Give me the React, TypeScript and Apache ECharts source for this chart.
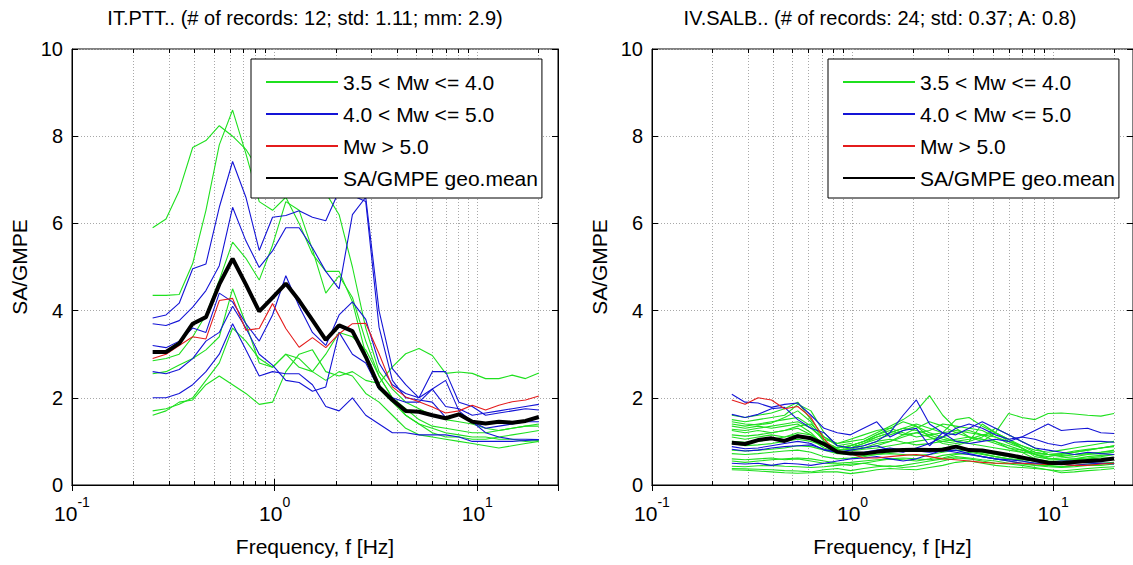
import React, { useEffect, useRef } from "react";
import * as echarts from "echarts";

// Frequencies (Hz) of the spectral points
const FREQ = [0.25, 0.291, 0.338, 0.394, 0.458, 0.533, 0.62, 0.721, 0.839, 0.976, 1.135, 1.32, 1.536, 1.787, 2.079, 2.419, 2.814, 3.273, 3.808, 4.43, 5.153, 5.995, 6.974, 8.113, 9.438, 10.98, 12.77, 14.86, 17.29, 20.11];
// Minor log grid positions
const X_MINOR = [0.2, 0.3, 0.4, 0.5, 0.6, 0.7, 0.8, 0.9, 2, 3, 4, 5, 6, 7, 8, 9, 20];
const Y_MIN = 0;
const Y_MAX = 10;
const Y_STEP = 2;
const X_MIN = 0.1;
const X_MAX = 25;

const LEGEND_NAMES = ["3.5 < Mw <= 4.0", "4.0 < Mw <= 5.0", "Mw > 5.0", "SA/GMPE geo.mean"];
const TITLE_LEFT = "IT.PTT.. (# of records: 12; std: 1.11; mm: 2.9)";
const TITLE_RIGHT = "IV.SALB.. (# of records: 24; std: 0.37; A: 0.8)";
const X_NAME = "Frequency, f [Hz]";
const Y_NAME = "SA/GMPE";

// ---- Left panel (IT.PTT) ----
const LEFT_GREEN = [
  [5.9, 6.1, 6.75, 7.74, 7.9, 8.24, 8.0, 7.7, 7.2, 6.9, 6.6, 6.8, 6.9, 6.7, 6.2, 5.0, 3.6, 2.6, 2.2, 1.9, 1.75, 1.6, 1.5, 1.45, 1.4, 1.3, 1.25, 1.3, 1.35, 1.4],
  [4.35, 4.35, 4.37, 5.08, 6.3, 7.8, 8.6, 7.6, 6.5, 6.3, 6.6, 6.0, 5.3, 4.9, 4.9, 4.2, 3.0, 2.2, 1.9, 1.6, 1.4, 1.3, 1.2, 1.15, 1.1, 1.1, 1.05, 1.05, 1.0, 1.02],
  [2.85, 2.9, 3.0, 3.4, 3.9, 4.7, 5.57, 5.2, 4.7, 5.5, 6.5, 6.3, 5.4, 4.4, 4.8, 4.3, 3.3, 2.5, 2.0, 1.75, 1.5, 1.35, 1.3, 1.25, 1.2, 1.2, 1.25, 1.3, 1.35, 1.35],
  [1.6, 1.7, 1.9, 1.95, 2.3, 2.5, 2.3, 2.1, 1.85, 1.9, 2.6, 3.0, 3.1, 2.6, 2.5, 2.6, 2.4, 2.33, 2.71, 3.01, 3.13, 2.97, 2.56, 2.59, 2.56, 2.44, 2.44, 2.52, 2.44, 2.57],
  [2.55, 2.6, 2.75, 2.9, 3.1, 3.4, 4.5, 3.7, 2.8, 2.7, 3.0, 2.9, 2.6, 2.4, 2.6, 2.5, 2.1, 1.9, 1.6, 1.3, 1.15, 1.1, 1.05, 1.0, 0.95, 0.9, 0.85, 0.9, 0.95, 1.0],
  [1.7, 1.75, 1.85, 2.0, 2.4, 2.8, 3.6, 3.3, 2.9, 2.7, 3.0, 2.7, 2.6, 3.0, 3.5, 3.4, 3.1, 2.5, 2.0, 1.6, 1.4, 1.2, 1.1, 1.1, 1.05, 1.05, 1.1, 1.15, 1.2, 1.25],
];
const LEFT_BLUE = [
  [3.83, 3.9, 4.17, 4.96, 5.07, 6.37, 7.42, 6.6, 5.38, 6.14, 6.18, 6.29, 6.14, 6.06, 6.75, 6.64, 6.5, 3.62, 2.4, 2.0, 1.95, 1.9, 1.55, 1.6, 1.45, 1.3, 1.35, 1.4, 1.45, 1.45],
  [3.7, 3.66, 3.77, 4.08, 4.46, 5.03, 6.37, 5.6, 4.99, 5.37, 5.9, 5.9, 5.44, 4.9, 4.5, 6.2, 6.6, 4.0, 2.67, 2.3, 2.0, 2.2, 1.8, 1.75, 1.6, 1.65, 1.7, 1.75, 1.8, 1.85],
  [3.2, 3.15, 3.3, 3.6, 3.5, 4.4, 4.2, 3.7, 3.3, 3.9, 4.8, 4.1, 3.5, 3.2, 3.9, 4.2, 3.8, 2.8, 2.3, 2.1, 2.0, 2.6, 2.6, 1.9, 1.8, 1.6, 1.65, 1.7, 1.75, 1.72],
  [2.6, 2.55, 2.65, 2.9, 3.3, 3.5, 4.1, 3.6, 3.0, 2.75, 2.4, 2.35, 2.15, 2.25, 3.5, 3.0, 2.8, 2.2, 2.0, 1.9, 1.9, 2.2, 2.4, 1.7, 1.45, 1.2, 1.1, 1.05, 1.05, 1.04],
  [2.0, 2.0, 2.1, 2.3, 2.6, 3.0, 3.7, 3.1, 2.5, 2.6, 2.55, 2.55, 2.3, 1.8, 1.7, 2.0, 1.6, 1.4, 1.2, 1.2, 1.15, 1.15, 1.15, 1.1, 1.0, 1.0, 1.0, 1.0, 1.02, 1.04],
];
const LEFT_RED = [
  [2.9, 3.0, 3.2, 3.4, 3.35, 4.23, 4.28, 3.55, 3.59, 4.16, 3.59, 3.16, 3.38, 3.15, 3.47, 3.7, 3.71, 3.01, 2.25, 2.02, 1.91, 1.79, 1.65, 1.7, 1.83, 1.72, 1.83, 1.91, 1.95, 2.04],
];
const LEFT_MEAN = [3.05, 3.05, 3.25, 3.7, 3.85, 4.6, 5.19, 4.6, 3.98, 4.3, 4.62, 4.23, 3.78, 3.33, 3.66, 3.53, 2.94, 2.25, 1.95, 1.7, 1.68, 1.6, 1.53, 1.62, 1.45, 1.41, 1.45, 1.43, 1.47, 1.56];

// ---- Right panel (IV.SALB) ----
const RIGHT_GREEN = [
  [1.6, 1.55, 1.6, 1.65, 1.75, 1.9, 1.5, 1.1, 0.95, 1.0, 1.05, 1.2, 1.35, 1.5, 1.7, 2.05, 1.6, 1.3, 1.1, 1.0, 1.2, 1.64, 1.55, 1.5, 1.64, 1.65, 1.63, 1.6, 1.58, 1.64],
  [1.5, 1.45, 1.5, 1.55, 1.6, 1.85, 1.7, 1.2, 0.9, 0.85, 0.95, 1.1, 1.2, 1.3, 1.4, 1.3, 1.2, 1.5, 1.55, 1.35, 1.2, 1.05, 0.9, 0.8, 0.75, 0.8, 0.85, 0.9, 0.95, 1.0],
  [1.4, 1.35, 1.4, 1.45, 1.5, 1.55, 1.35, 1.0, 0.85, 0.9, 1.0, 1.15, 1.25, 1.15, 1.2, 1.25, 1.4, 1.35, 1.3, 1.25, 1.1, 0.95, 0.85, 0.7, 0.65, 0.7, 0.75, 0.8, 0.85, 0.88],
  [1.35, 1.3, 1.35, 1.3, 1.35, 1.4, 1.2, 0.9, 0.8, 0.85, 0.95, 1.05, 1.15, 1.25, 1.35, 1.1, 0.95, 0.9, 1.0, 1.1, 1.3, 1.15, 1.0, 0.85, 0.7, 0.65, 0.7, 0.72, 0.75, 0.8],
  [1.28, 1.25, 1.3, 1.35, 1.4, 1.45, 1.3, 1.05, 0.95, 1.05, 1.15, 1.25, 1.3, 1.2, 1.1, 1.15, 1.2, 1.25, 1.2, 1.15, 1.1, 1.0, 0.9, 0.75, 0.7, 0.72, 0.78, 0.82, 0.85, 0.9],
  [1.25, 1.2, 1.25, 1.2, 1.25, 1.3, 1.15, 0.95, 0.85, 0.9, 1.0, 1.1, 1.2, 1.3, 1.25, 1.15, 1.05, 1.0, 1.05, 1.15, 1.2, 1.05, 0.85, 0.65, 0.6, 0.62, 0.65, 0.7, 0.72, 0.75],
  [1.15, 1.12, 1.15, 1.2, 1.25, 1.35, 1.4, 1.1, 0.9, 0.95, 0.85, 0.9, 1.0, 1.15, 1.3, 1.45, 1.35, 1.2, 1.1, 1.05, 1.0, 0.9, 0.8, 0.7, 0.62, 0.58, 0.6, 0.62, 0.65, 0.7],
  [1.1, 1.05, 1.1, 1.15, 1.1, 1.15, 1.05, 0.85, 0.75, 0.78, 0.82, 0.85, 0.9, 0.95, 1.0, 1.05, 1.1, 1.2, 1.25, 1.15, 1.0, 0.85, 0.75, 0.6, 0.55, 0.55, 0.58, 0.6, 0.62, 0.62],
  [0.8, 0.78, 0.8, 0.82, 0.85, 0.9, 0.88, 0.8, 0.72, 0.7, 0.68, 0.7, 0.75, 0.78, 0.8, 0.82, 0.85, 0.88, 0.8, 0.75, 0.7, 0.65, 0.6, 0.55, 0.5, 0.5, 0.52, 0.55, 0.58, 0.6],
  [0.6, 0.58, 0.6, 0.62, 0.58, 0.6, 0.55, 0.5, 0.48, 0.45, 0.5, 0.55, 0.6, 0.62, 0.6, 0.58, 0.62, 0.7, 0.75, 0.7, 0.65, 0.6, 0.55, 0.5, 0.45, 0.42, 0.45, 0.48, 0.5, 0.52],
  [0.43, 0.42, 0.44, 0.45, 0.43, 0.42, 0.4, 0.42, 0.45, 0.48, 0.5, 0.45, 0.42, 0.45, 0.5, 0.55, 0.6, 0.65, 0.62, 0.58, 0.55, 0.5, 0.48, 0.45, 0.42, 0.4, 0.42, 0.45, 0.45, 0.48],
  [0.38, 0.37, 0.36, 0.35, 0.33, 0.32, 0.3, 0.35, 0.38, 0.33, 0.38, 0.42, 0.44, 0.4, 0.43, 0.48, 0.55, 0.62, 0.6, 0.55, 0.5, 0.48, 0.45, 0.4, 0.35, 0.32, 0.35, 0.38, 0.4, 0.42],
  [1.0, 0.98, 1.0, 1.05, 1.1, 1.2, 1.15, 0.95, 0.8, 0.82, 0.9, 1.0, 1.05, 0.98, 0.92, 0.95, 1.0, 1.05, 1.1, 1.05, 0.95, 0.85, 0.8, 0.75, 0.7, 0.68, 0.7, 0.72, 0.75, 0.78],
  [0.72, 0.7, 0.72, 0.75, 0.78, 0.8, 0.75, 0.65, 0.6, 0.62, 0.65, 0.7, 0.72, 0.7, 0.68, 0.7, 0.75, 0.8, 0.78, 0.72, 0.65, 0.6, 0.58, 0.55, 0.52, 0.5, 0.52, 0.55, 0.57, 0.6],
  [1.45, 1.4, 1.38, 1.42, 1.55, 1.7, 1.45, 1.0, 0.82, 0.8, 0.85, 0.95, 1.0, 1.1, 1.2, 1.1, 1.0, 0.95, 1.0, 1.4, 1.2, 1.0, 0.85, 0.7, 0.6, 0.58, 0.6, 0.65, 0.68, 0.7],
  [0.35, 0.34, 0.32, 0.3, 0.28, 0.27, 0.28, 0.3, 0.3, 0.26, 0.3, 0.35, 0.38, 0.36, 0.35, 0.4, 0.45, 0.52, 0.55, 0.5, 0.45, 0.42, 0.4, 0.38, 0.35, 0.28, 0.3, 0.33, 0.35, 0.38],
  [0.95, 0.9, 0.92, 0.95, 1.0, 1.05, 1.0, 0.9, 0.85, 0.9, 1.0, 1.15, 1.3, 1.45, 1.35, 1.2, 1.1, 1.0, 0.95, 0.9, 0.85, 0.8, 0.75, 0.72, 0.7, 0.72, 0.75, 0.8, 0.85, 0.9],
  [0.55, 0.52, 0.55, 0.58, 0.6, 0.62, 0.6, 0.55, 0.5, 0.52, 0.55, 0.58, 0.6, 0.58, 0.55, 0.6, 0.68, 0.72, 0.7, 0.65, 0.6, 0.55, 0.5, 0.46, 0.44, 0.42, 0.44, 0.46, 0.48, 0.5],
];
const RIGHT_BLUE = [
  [2.08, 1.9, 1.88, 1.78, 1.85, 1.88, 1.6, 1.3, 1.2, 1.15, 1.3, 1.45, 1.1, 1.25, 1.3, 0.9, 1.2, 1.15, 1.3, 1.45, 1.3, 1.15, 1.0, 0.85, 0.8, 0.75, 0.7, 0.75, 0.72, 0.7],
  [1.62, 1.55, 1.62, 1.75, 1.78, 1.5, 1.3, 1.2, 0.9, 0.85, 0.9, 1.0, 1.2, 1.6, 1.95, 1.4, 1.2, 1.0, 0.95, 1.0, 1.05, 1.0, 1.1, 1.25, 1.4, 1.25, 1.28, 1.3, 1.2, 1.18],
  [0.88, 0.83, 0.85, 0.9, 0.95, 1.0, 0.95, 0.8, 0.75, 0.8, 0.85, 0.9, 0.8, 0.75, 0.85, 0.95, 1.1, 1.3, 1.4, 1.3, 1.15, 1.05, 1.1, 1.05, 0.95, 0.9, 0.98, 1.0, 1.0, 0.98],
  [0.5, 0.48, 0.5, 0.45, 0.5, 0.48, 0.45, 0.5, 0.55, 0.6, 0.62, 0.65, 0.6, 0.55, 0.6, 0.7, 0.8, 0.75, 0.7, 0.65, 0.6, 0.58, 0.55, 0.5, 0.5, 0.48, 0.45, 0.48, 0.5, 0.48],
  [0.82, 0.78, 0.8, 0.85, 0.88, 0.9, 0.92, 0.82, 0.75, 0.72, 0.75, 0.8, 0.85, 0.8, 0.78, 0.75, 0.78, 0.8, 0.72, 0.65, 0.6, 0.55, 0.5, 0.5, 0.52, 0.55, 0.55, 0.52, 0.5, 0.5],
];
const RIGHT_RED = [
  [1.95, 1.85, 2.0, 1.95, 1.75, 1.8, 1.55, 1.05, 0.75, 0.72, 0.62, 0.62, 0.65, 0.68, 0.7, 0.65, 0.6, 0.58, 0.55, 0.52, 0.5, 0.5, 0.5, 0.48, 0.47, 0.47, 0.45, 0.45, 0.48, 0.5],
];
const RIGHT_MEAN = [0.97, 0.94, 1.03, 1.07, 1.01, 1.12, 1.07, 0.94, 0.76, 0.72, 0.72, 0.76, 0.79, 0.8, 0.81, 0.8, 0.81, 0.88, 0.8, 0.79, 0.74, 0.69, 0.63, 0.57, 0.51, 0.5, 0.53, 0.55, 0.57, 0.61];

const COLOR_GREEN = "#1fe01f";
const COLOR_BLUE = "#1414d6";
const COLOR_RED = "#e41c1c";
const COLOR_MEAN = "#000000";
const GRID_COLOR = "#a8a8a8";
const FONT = '"Liberation Sans", Arial, Helvetica, sans-serif';

const PANELS = [
  { left: 72, top: 49, width: 486, height: 436, title: TITLE_LEFT, titleX: 305, legendLeft: 251, legendTop: 59,
    green: LEFT_GREEN, blue: LEFT_BLUE, red: LEFT_RED, mean: LEFT_MEAN },
  { left: 652, top: 49, width: 482, height: 436, title: TITLE_RIGHT, titleX: 880, legendLeft: 828, legendTop: 59,
    green: RIGHT_GREEN, blue: RIGHT_BLUE, red: RIGHT_RED, mean: RIGHT_MEAN },
];

function toPairs(values: number[]) {
  return FREQ.map((f, i) => [f, values[i]]);
}

function lineSeries(name: string, values: number[], color: string, width: number, gi: number, z: number) {
  return {
    type: "line",
    name,
    xAxisIndex: gi,
    yAxisIndex: gi,
    data: toPairs(values),
    showSymbol: false,
    symbol: "none",
    silent: true,
    z,
    lineStyle: { color, width },
    itemStyle: { color },
    emphasis: { disabled: true },
  };
}

function buildOption() {
  const grid: any[] = [];
  const xAxis: any[] = [];
  const yAxis: any[] = [];
  const series: any[] = [];
  const legend: any[] = [];
  const graphic: any[] = [];

  PANELS.forEach((p) => {
    grid.push({ left: p.left, top: p.top, width: p.width, height: p.height, show: true, borderColor: "#000", borderWidth: 1, backgroundColor: "transparent" });
  });

  // bottom x axes
  PANELS.forEach((p, gi) => {
    xAxis.push({
      type: "log", logBase: 10, min: X_MIN, max: X_MAX, gridIndex: gi, position: "bottom",
      axisLine: { show: true, lineStyle: { color: "#000", width: 1 } },
      axisTick: { show: true, inside: true, length: 6, lineStyle: { color: "#000" } },
      axisLabel: {
        show: true, showMaxLabel: false, margin: 10, color: "#000",
        formatter: (v: number) => {
          const e = Math.round(Math.log10(v));
          if (Math.abs(Math.log10(v) - e) > 1e-6) return "";
          return `{b|10}{s|${e}}`;
        },
        rich: {
          b: { fontSize: 21, fontFamily: FONT, color: "#000", padding: [8, 0, 0, 0], verticalAlign: "bottom" },
          s: { fontSize: 14, fontFamily: FONT, color: "#000", verticalAlign: "top", lineHeight: 14 },
        },
      },
      splitLine: { show: true, lineStyle: { color: GRID_COLOR, type: [1, 2], width: 1 } },
      name: X_NAME, nameLocation: "middle", nameGap: 51,
      nameTextStyle: { fontSize: 21, fontFamily: FONT, color: "#000" },
    });
  });
  // top x axes (mirror ticks)
  PANELS.forEach((p, gi) => {
    xAxis.push({
      type: "log", logBase: 10, min: X_MIN, max: X_MAX, gridIndex: gi, position: "top",
      axisLine: { show: true, lineStyle: { color: "#000", width: 1 } },
      axisTick: { show: true, inside: true, length: 6, lineStyle: { color: "#000" } },
      axisLabel: { show: false },
      splitLine: { show: false },
    });
  });
  // left y axes
  PANELS.forEach((p, gi) => {
    yAxis.push({
      type: "value", min: Y_MIN, max: Y_MAX, interval: Y_STEP, gridIndex: gi, position: "left",
      axisLine: { show: true, lineStyle: { color: "#000", width: 1 } },
      axisTick: { show: true, inside: true, length: 6, lineStyle: { color: "#000" } },
      axisLabel: { show: true, fontSize: 20, fontFamily: FONT, color: "#000", margin: 9 },
      splitLine: { show: true, lineStyle: { color: GRID_COLOR, type: [1, 2], width: 1 } },
      name: Y_NAME, nameLocation: "middle", nameGap: 42, nameRotate: 90,
      nameTextStyle: { fontSize: 21, fontFamily: FONT, color: "#000" },
    });
  });
  // right y axes (mirror ticks)
  PANELS.forEach((p, gi) => {
    yAxis.push({
      type: "value", min: Y_MIN, max: Y_MAX, interval: Y_STEP, gridIndex: gi, position: "right",
      axisLine: { show: true, lineStyle: { color: "#000", width: 1 } },
      axisTick: { show: true, inside: true, length: 6, lineStyle: { color: "#000" } },
      axisLabel: { show: false },
      splitLine: { show: false },
    });
  });

  PANELS.forEach((p, gi) => {
    // minor log grid + minor ticks
    series.push({
      type: "custom",
      name: "minor-grid-" + gi,
      xAxisIndex: gi,
      yAxisIndex: gi,
      silent: true,
      z: 1,
      data: X_MINOR.map((v) => [v, 0]),
      renderItem: (params: any, api: any) => {
        const cs = params.coordSys;
        const x = Math.round(api.coord([api.value(0), 0])[0]) + 0.5;
        const top = cs.y;
        const bottom = cs.y + cs.height;
        return {
          type: "group",
          children: [
            { type: "line", shape: { x1: x, y1: top, x2: x, y2: bottom }, style: { stroke: GRID_COLOR, lineWidth: 1, lineDash: [1, 2] } },
            { type: "line", shape: { x1: x, y1: bottom, x2: x, y2: bottom - 4 }, style: { stroke: "#000", lineWidth: 1 } },
            { type: "line", shape: { x1: x, y1: top, x2: x, y2: top + 4 }, style: { stroke: "#000", lineWidth: 1 } },
          ],
        };
      },
    });
    p.green.forEach((vals) => series.push(lineSeries(LEGEND_NAMES[0], vals, COLOR_GREEN, 1.1, gi, 2)));
    p.blue.forEach((vals) => series.push(lineSeries(LEGEND_NAMES[1], vals, COLOR_BLUE, 1.1, gi, 2)));
    p.red.forEach((vals) => series.push(lineSeries(LEGEND_NAMES[2], vals, COLOR_RED, 1.1, gi, 2)));
    series.push(lineSeries(LEGEND_NAMES[3], p.mean, COLOR_MEAN, 4, gi, 3));

    legend.push({
      data: LEGEND_NAMES,
      orient: "vertical",
      left: p.legendLeft,
      top: p.legendTop,
      padding: [12, 4, 9, 14],
      itemGap: 10,
      itemWidth: 72,
      itemHeight: 14,
      backgroundColor: "#fff",
      borderColor: "#000",
      borderWidth: 1,
      borderRadius: 0,
      selectedMode: false,
      z: 10,
      itemStyle: { opacity: 0 },
      textStyle: { fontSize: 21, fontFamily: FONT, color: "#000", lineHeight: 22 },
    });

    graphic.push({
      type: "text",
      x: p.titleX,
      y: 18,
      style: { text: p.title, fill: "#000", fontSize: 20, fontFamily: FONT, align: "center", verticalAlign: "middle" },
    });
  });

  return {
    animation: false,
    backgroundColor: "#fff",
    tooltip: { show: false },
    grid,
    xAxis,
    yAxis,
    legend,
    series,
    graphic,
  };
}

export default function App() {
  const ref = useRef<HTMLDivElement>(null);
  useEffect(() => {
    if (!ref.current) return;
    const chart = echarts.init(ref.current, undefined, { renderer: "svg" });
    chart.setOption(buildOption() as any);
    return () => chart.dispose();
  }, []);
  return (
    <div
      ref={ref}
      style={{ position: "absolute", left: 0, top: 0, width: 1133, height: 565, background: "#fff" }}
    />
  );
}
